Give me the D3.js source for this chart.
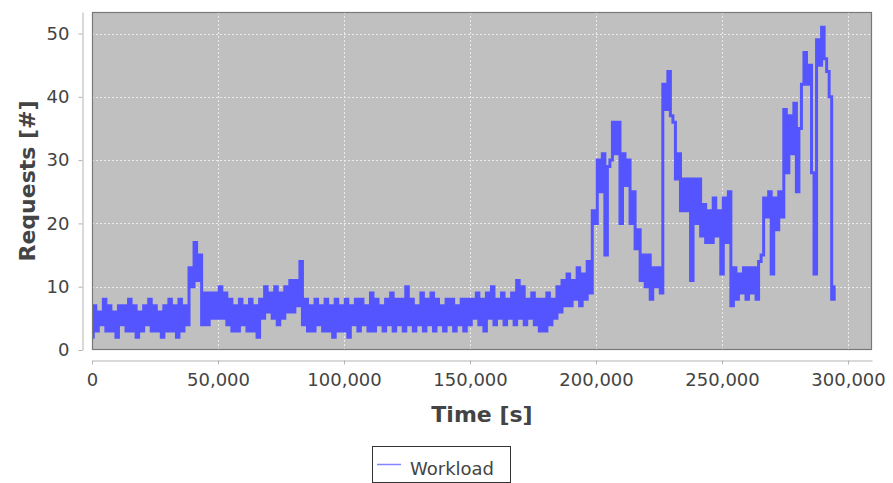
<!DOCTYPE html>
<html>
<head>
<meta charset="utf-8">
<script src="https://cdn.jsdelivr.net/npm/d3@7"></script>
<style>
  body { margin: 0; background: #fff; }
  svg { display: block; }
  text { font-family: "DejaVu Sans", sans-serif; }
</style>
</head>
<body>
<div id="chart"></div>
<script>
// readings every 1000 s (low / high of the noisy band alternate)
const sampleStep = 1000;
const requests = [
    2, 7, 3, 6, 4, 8, 3, 7, 3, 6, 2, 7, 4, 7, 3, 8, 3, 7, 2, 6,
    3, 7, 4, 8, 3, 7, 3, 6, 2, 7, 3, 8, 3, 7, 2, 8, 3, 7,
    4, 13, 10, 17, 11, 15, 4, 9,
    4, 9, 5, 9, 5, 10, 5, 9, 4, 8,
    3, 7, 3, 8, 4, 7, 3, 8, 3, 7, 2, 8,
    5, 10, 6, 9, 5, 10, 4, 9, 5, 10,
    6, 11, 6, 11, 7, 14,
    4, 8, 3, 7, 3, 8, 4, 7, 3, 8, 3, 7, 2, 8, 3, 7,
    3, 8, 2, 7, 4, 8, 3, 8, 4, 7, 3, 9, 3, 8, 4, 7, 3, 8, 4, 9,
    3, 8, 4, 8, 3, 10, 4, 8, 3, 7, 4, 9, 3, 8, 4, 9, 3, 8, 4, 7,
    3, 8, 4, 8, 3, 7, 4, 8, 3, 8,
    4, 8, 5, 9, 4, 8, 3, 9, 5, 10, 4, 8, 5, 9, 4, 8, 5, 9, 4, 11,
    5, 10, 4, 8, 5, 9, 4, 8, 3, 8, 3, 9, 4, 8,
    5, 10, 6, 11, 7, 12, 7, 11, 8, 13, 7, 12, 8, 14,
    9, 22, 20, 30, 25, 31, 15, 29, 30, 36, 31, 36, 20, 31, 26, 30, 20, 25, 16, 19,
    11, 15, 10, 15, 8, 13, 10, 13, 9,
    42, 38, 44, 37, 36, 27, 31, 22, 27, 22, 27, 11, 27, 20, 27, 18, 23, 17, 22, 17,
    24, 18, 22, 12, 24, 17, 25,
    7, 13, 8, 12, 9, 13, 8, 13, 9, 13, 8, 14, 15, 24, 21, 25,
    12, 24, 19, 25, 21, 38, 28, 37, 31, 39, 25, 35, 42, 47, 42, 45, 28, 12, 49, 45,
    51, 46, 44, 40, 8, 10
];
const xTicks = [0, 50000, 100000, 150000, 200000, 250000, 300000];
const yTicks = [0, 10, 20, 30, 40, 50];
const seriesName = "Workload";

var width = 893,
    height = 483,
    plot = {left: 92, top: 12, right: 872, bottom: 350};

var x = d3.scaleLinear().domain([0, 309500]).range([plot.left, plot.right]);
var y = d3.scaleLinear().domain([0, 53.4]).range([plot.bottom, plot.top]);

var svg = d3.select("#chart").append("svg")
    .attr("width", width)
    .attr("height", height);

svg.append("defs").append("clipPath").attr("id", "plotclip")
    .append("rect")
    .attr("x", plot.left).attr("y", plot.top)
    .attr("width", plot.right - plot.left).attr("height", plot.bottom - plot.top);

svg.append("rect")
    .attr("x", plot.left).attr("y", plot.top)
    .attr("width", plot.right - plot.left).attr("height", plot.bottom - plot.top)
    .attr("fill", "#c0c0c0");

// dashed grid
svg.append("g").selectAll("line")
    .data(xTicks.filter(function (d) { return d > 0; }))
    .enter().append("line")
    .attr("x1", function (d) { return Math.round(x(d)) + 0.5; })
    .attr("x2", function (d) { return Math.round(x(d)) + 0.5; })
    .attr("y1", plot.top).attr("y2", plot.bottom)
    .attr("stroke", "#ececec").attr("stroke-dasharray", "2,2");

svg.append("g").selectAll("line")
    .data(yTicks.filter(function (d) { return d > 0; }))
    .enter().append("line")
    .attr("y1", function (d) { return Math.round(y(d)) + 0.5; })
    .attr("y2", function (d) { return Math.round(y(d)) + 0.5; })
    .attr("x1", plot.left).attr("x2", plot.right)
    .attr("stroke", "#ececec").attr("stroke-dasharray", "2,2");

var line = d3.line()
    .x(function (d, i) { return x(i * sampleStep); })
    .y(function (d) { return y(d); })
    .curve(d3.curveStep);

svg.append("path")
    .datum(requests)
    .attr("clip-path", "url(#plotclip)")
    .attr("fill", "none")
    .attr("stroke", "#5555ff")
    .attr("stroke-width", 3)
    .attr("d", line);

svg.append("rect")
    .attr("x", plot.left + 0.5).attr("y", plot.top + 0.5)
    .attr("width", plot.right - plot.left - 1).attr("height", plot.bottom - plot.top - 1)
    .attr("fill", "none")
    .attr("stroke", "#787878")
    .attr("stroke-width", 1.2);

// axes
var xAxis = svg.append("g")
    .attr("transform", "translate(0," + 360.5 + ")")
    .call(d3.axisBottom(x).tickValues(xTicks).tickFormat(d3.format(","))
        .tickSizeInner(4).tickSizeOuter(0).tickPadding(9));

var yAxis = svg.append("g")
    .attr("transform", "translate(" + 82.5 + ",0)")
    .call(d3.axisLeft(y).tickValues(yTicks)
        .tickSizeInner(4).tickSizeOuter(0).tickPadding(9));

[xAxis, yAxis].forEach(function (g) {
    g.select(".domain").attr("stroke", "#b4b4b4");
    g.selectAll(".tick line").attr("stroke", "#b4b4b4");
    g.selectAll(".tick text")
        .attr("fill", "#444")
        .attr("font-size", "18px")
        .attr("font-family", "DejaVu Sans, sans-serif");
});

svg.append("text")
    .attr("x", (plot.left + plot.right) / 2)
    .attr("y", 422)
    .attr("text-anchor", "middle")
    .attr("font-size", "22px")
    .attr("font-weight", "bold")
    .attr("fill", "#444")
    .text("Time [s]");

svg.append("text")
    .attr("transform", "translate(35," + (plot.top + plot.bottom) / 2 + ") rotate(-90)")
    .attr("text-anchor", "middle")
    .attr("font-size", "22px")
    .attr("font-weight", "bold")
    .attr("fill", "#444")
    .text("Requests [#]");

// legend
var legend = svg.append("g");
legend.append("rect")
    .attr("x", 372.5).attr("y", 446.5)
    .attr("width", 138).attr("height", 36)
    .attr("fill", "#fff")
    .attr("stroke", "#333");
legend.append("line")
    .attr("x1", 377).attr("x2", 401)
    .attr("y1", 464.5).attr("y2", 464.5)
    .attr("stroke", "#8484ff")
    .attr("stroke-width", 1.5);
legend.append("text")
    .attr("x", 410).attr("y", 475)
    .attr("font-size", "18px")
    .attr("fill", "#444")
    .text(seriesName);
</script>
</body>
</html>
